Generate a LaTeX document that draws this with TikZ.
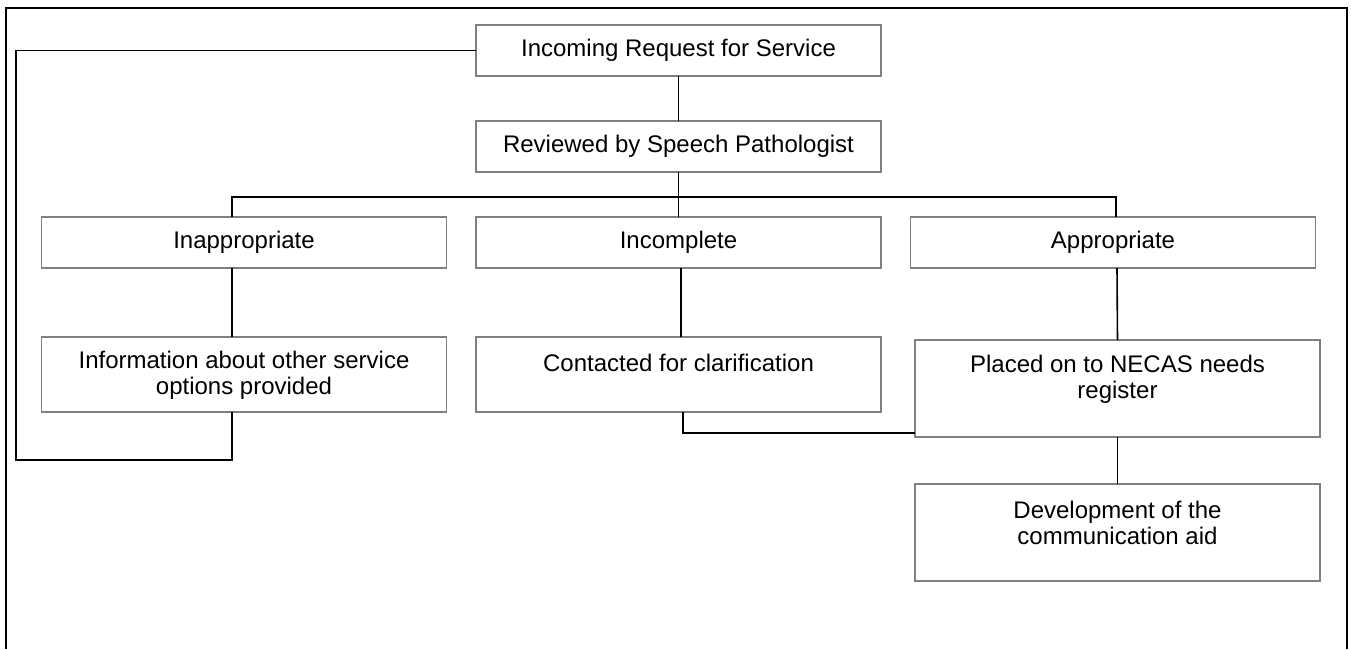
\documentclass[tikz,border=0pt]{standalone}
\usepackage{fontspec}
\setmainfont{Liberation Sans}
\begin{document}
\begin{tikzpicture}[x=0.5pt,y=-0.5pt,
  box/.style={draw=black!50,line width=0.7pt,rectangle,inner sep=0pt,outer sep=0pt,minimum width=202.5pt},
  sbox/.style={box,minimum height=25.5pt},
  mbox/.style={box,minimum height=37.5pt},
  tbox/.style={box,minimum height=48.5pt},
  lbl/.style={inner sep=0pt,align=center,font=\fontsize{12}{13}\selectfont},
  conn/.style={draw=black,line width=0.8pt},
  frame/.style={draw=black,line width=1pt}]
\useasboundingbox (0,0) rectangle (1351,649);
% outer frame (open at bottom)
\draw[frame] (6,649) -- (6,8) -- (1347,8) -- (1347,649);
% boxes
\node[sbox] (in) at (678.5,50.5) {};
\node[sbox] (rev) at (678.5,146.5) {};
\node[sbox] (inapp) at (244,242.5) {};
\node[sbox] (incom) at (678.5,242.5) {};
\node[sbox] (appr) at (1113,242.5) {};
\node[mbox] (info) at (244,374.5) {};
\node[mbox] (contact) at (678.5,374.5) {};
\node[tbox] (placed) at (1117.5,388.5) {};
\node[tbox] (dev) at (1117.5,532.5) {};
% labels
\node[lbl] (tin) at (678.5,50.5) {Incoming Request for Service};
\node[lbl] (trev) at (678.5,146.5) {Reviewed by Speech Pathologist};
\node[lbl] (tinapp) at (244,242.5) {Inappropriate};
\node[lbl] (tincom) at (678.5,242.5) {Incomplete};
\node[lbl] (tappr) at (1113,242.5) {Appropriate};
\node[lbl] (tinfo) at (244,375.5) {Information about other service\\options provided};
\node[lbl] (tcontact) at (678.5,363) {Contacted for clarification};
\node[lbl] (tplaced) at (1117.5,379.5) {Placed on to NECAS needs\\register};
\node[lbl] (tdev) at (1117.5,522.5) {Development of the\\communication aid};
% helper coordinates
\coordinate (busL) at (232,197);
\coordinate (busR) at (1116,197);
\coordinate (apX) at (1117,0);
\coordinate (cX) at (683,433);
\coordinate (fbB) at (16,460);
% connectors
\draw[conn] (in.south) -- (rev.north);
\draw[conn] (rev.south) -- (incom.north);
\draw[conn] (busL |- inapp.north) -- (busL) -- (busR) -- (busR |- appr.north);
\draw[conn] (busL |- inapp.south) -- (busL |- info.north);
\draw[conn] (681,268) -- (681,337);
\draw[conn] (apX |- appr.south) -- (placed.north);
\draw[conn] (placed.south) -- (dev.north);
\draw[conn] (cX |- contact.south) -- (cX) -- (cX -| placed.west);
\draw[conn] (in.west) -| (fbB) -- (fbB -| busL) -- (busL |- info.south);
\end{tikzpicture}
\end{document}
